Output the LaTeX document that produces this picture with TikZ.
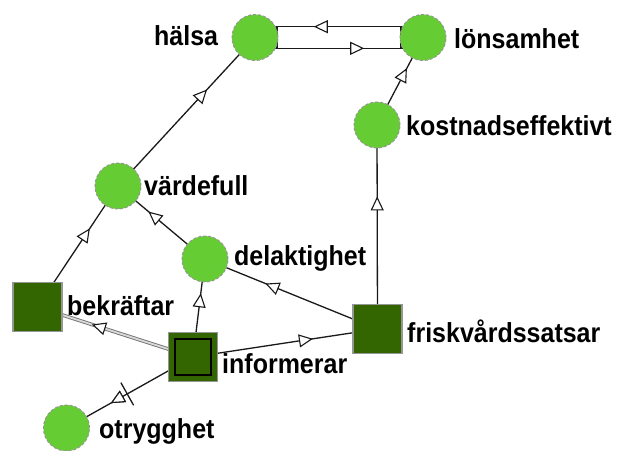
\documentclass[tikz,border=0pt]{standalone}
\usepackage{fontspec}
\setmainfont{Liberation Sans}
\usetikzlibrary{arrows.meta,decorations.markings,backgrounds,calc}
\definecolor{leaf}{RGB}{102,204,51}
\definecolor{moss}{RGB}{51,102,0}
\definecolor{rim}{RGB}{150,150,150}
\newcommand\tallword[1]{\scalebox{1}[1.1]{#1}}
\begin{document}
\begin{tikzpicture}[x=1pt,y=-1pt,
  concept/.style={circle,fill=leaf,draw=rim,densely dashed,line width=1pt,minimum size=46pt,inner sep=0pt},
  action/.style={rectangle,fill=moss,draw=rim,line width=1.6pt,minimum size=49pt,inner sep=0pt},
  core/.style={rectangle,fill=moss,draw=black,line width=1.6pt,minimum size=36pt,inner sep=0pt},
  tag/.style={font=\bfseries\fontsize{25}{25}\selectfont,inner sep=0pt,anchor=base west},
  opentip/.tip={Triangle[length=14pt,width=13pt,fill=white,line width=1.1pt]},
  flow/.style={draw=black!90,line width=1.3pt,postaction={decorate},
    decoration={markings,mark=at position 0.65 with {\arrow{opentip}}}},
  twin/.style={draw=black!55,double=black!15,double distance=1.8pt,line width=0.9pt,postaction={decorate},
    decoration={markings,mark=at position 0.65 with {\arrow[black!90]{opentip}}}},
  crossed/.style={decoration={markings,
    mark=at position 0.65 with {\arrow{opentip}},
    mark=at position 0.52 with {\draw[line width=1.3pt] (0pt,-13pt) -- (0pt,13pt);}}},
]
\useasboundingbox (0,0) rectangle (618,450);

% concepts (circles)
\node[concept] (hal) at (255,37.5) {};
\node[concept] (lon) at (423,37.5) {};
\node[concept] (kos) at (377,125) {};
\node[concept] (var) at (118,186) {};
\node[concept] (del) at (205,259) {};
\node[concept] (otr) at (66.5,428) {};

% actions (squares)
\node[action] (bek) at (37.5,307) {};
\node[action] (inf) at (193,357) {};
\node[core]   (infc) at (inf.center) {};
\node[action] (fri) at (377.5,329) {};

% labels
\node[tag] (halT) at (154,45) {\tallword{hälsa}};
\node[tag] (lonT) at (454,48) {\tallword{lönsamhet}};
\node[tag] (kosT) at (406,135) {\tallword{kostnadseffektivt}};
\node[tag] (varT) at (144,195) {\tallword{värdefull}};
\node[tag] (delT) at (234,265) {\tallword{delaktighet}};
\node[tag] (bekT) at (67,315) {\tallword{bekräftar}};
\node[tag] (infT) at (222,373) {\tallword{informerar}};
\node[tag] (friT) at (407,342) {\tallword{friskvårdssatsar}};
\node[tag] (otrT) at (99,438) {\tallword{otrygghet}};

% connectors, behind the nodes
\begin{scope}[on background layer]
  \fill[white] (0,0) rectangle (618,450);
  \draw[flow] ($(lon.center)+(0,-10.8)$) -- ($(hal.center)+(0,-10.8)$);
  \draw[flow] ($(hal.center)+(0,10.8)$) -- ($(lon.center)+(0,10.8)$);
  \draw[draw=black!90,line width=1.3pt] ($(hal.center)+(22,-10.8)$) -- ($(hal.center)+(22,10.8)$);
  \draw[draw=black!90,line width=1.3pt] ($(lon.center)+(-22,-10.8)$) -- ($(lon.center)+(-22,10.8)$);
  \draw[flow] (kos.center) -- (lon.center);
  \draw[flow] (fri.center) -- (kos.center);
  \draw[flow] (var.center) -- (hal.center);
  \draw[flow] (bek.center) -- (var.center);
  \draw[flow] (del.center) -- (var.center);
  \draw[flow] (fri.center) -- (del.center);
  \draw[flow] (inf.center) -- (del.center);
  \draw[flow] (inf.center) -- (fri.center);
  \draw[twin] (inf.center) -- (bek.center);
  \draw[flow,crossed] (inf.center) -- (otr.center);
\end{scope}
\end{tikzpicture}
\end{document}
